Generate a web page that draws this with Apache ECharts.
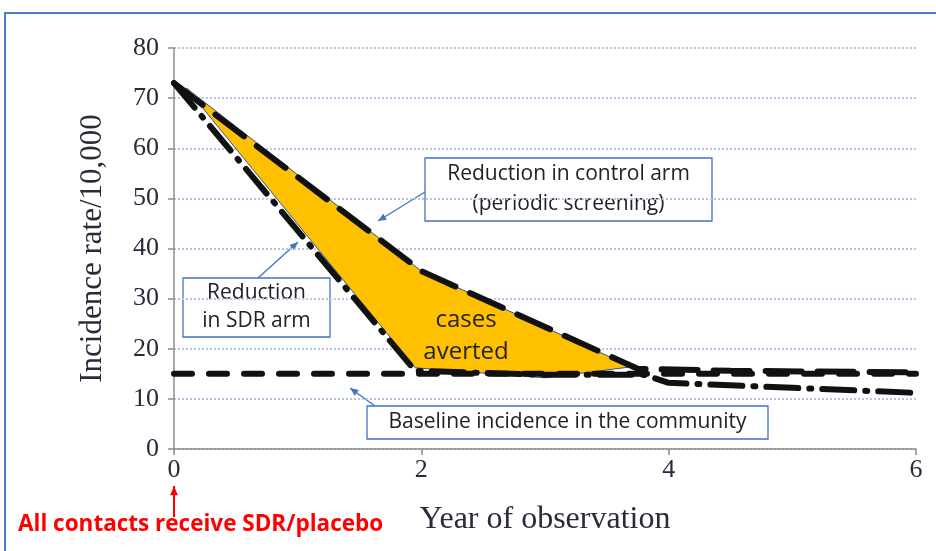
<!DOCTYPE html>
<html lang="en">
<head>
    <meta charset="UTF-8">
    <title>Incidence rate</title>
    <script src="https://cdn.jsdelivr.net/npm/echarts@6/dist/echarts.min.js"></script>
    <style>
        *{
            margin: 0;
            padding: 0;
        }
        .container{
            width: 936px;
            height: 551px;
        }
    </style>
</head>
<body>
<div class="container"></div>
<script>
    // values
    let xTicks = [0, 2, 4, 6];
    let baseline = [[0, 15], [6, 15]];
    let controlArm = [[0, 73], [2, 35.5], [3.75, 16], [4.5, 15.6], [6, 15.3]];
    let sdrArm = [[0, 73], [1.95, 15.6], [3, 14.8], [3.8, 14.8], [4, 13.2], [5, 12.2], [6, 11.2]];
    let avertedTop = [[0.1, 72], [2, 35.5], [3.7, 16.4]];
    let avertedBottom = [[0.1, 72], [1.95, 16.2], [3, 14.2], [3.7, 16.4]];

    let main = document.querySelectorAll(".container");
    let mycharts = echarts.init(main[0]);

    let serif = '"Liberation Serif", "DejaVu Serif", serif';
    let sans = '"Open Sans", "Noto Sans", sans-serif';
    let boxBlue = '#4472c4';
    let polygon = avertedTop.concat(avertedBottom.slice().reverse());

    function box(x, y, w, h, lines, size, lh) {
        return {
            type: 'group',
            children: [{
                type: 'rect',
                shape: {x: x, y: y, width: w, height: h},
                style: {fill: '#fff', stroke: boxBlue, lineWidth: 1.3}
            }, {
                type: 'text',
                x: x + w / 2,
                y: y + h / 2,
                style: {
                    text: lines.join('\n'),
                    font: size + 'px ' + sans,
                    fill: '#222',
                    align: 'center',
                    verticalAlign: 'middle',
                    lineHeight: lh
                }
            }]
        };
    }

    function arrow(x1, y1, x2, y2, color, width, head) {
        let a = Math.atan2(y2 - y1, x2 - x1);
        return {
            type: 'group',
            children: [{
                type: 'line',
                shape: {x1: x1, y1: y1, x2: x2, y2: y2},
                style: {stroke: color, lineWidth: width}
            }, {
                type: 'polygon',
                shape: {points: [
                    [x2, y2],
                    [x2 - head * Math.cos(a - 0.4), y2 - head * Math.sin(a - 0.4)],
                    [x2 - head * Math.cos(a + 0.4), y2 - head * Math.sin(a + 0.4)]
                ]},
                style: {fill: color}
            }]
        };
    }

    let Option = {
        backgroundColor: '#fff',
        animation: false,
        grid: {left: 174, top: 48, width: 742, height: 401},
        xAxis: {
            type: 'value',
            min: 0,
            max: 6,
            interval: 2,
            name: 'Year of observation',
            nameLocation: 'middle',
            nameGap: 55,
            nameTextStyle: {fontFamily: serif, fontSize: 32, color: '#2a2a3a'},
            axisLine: {lineStyle: {color: '#8c8c8c', width: 1.5}},
            axisTick: {show: true, length: 6, lineStyle: {color: '#8c8c8c', width: 1.5}},
            axisLabel: {fontFamily: serif, fontSize: 26, color: '#2a2a3a', margin: 8,
                formatter: v => xTicks.includes(v) ? String(v) : ''},
            splitLine: {show: false}
        },
        yAxis: {
            type: 'value',
            min: 0,
            max: 80,
            interval: 10,
            name: 'Incidence rate/10,000',
            nameLocation: 'middle',
            nameGap: 66,
            nameTextStyle: {fontFamily: serif, fontSize: 31, color: '#2a2a3a'},
            axisLine: {show: true, lineStyle: {color: '#8c8c8c', width: 1.5}},
            axisTick: {show: true, length: 6, lineStyle: {color: '#8c8c8c', width: 1.5}},
            axisLabel: {fontFamily: serif, fontSize: 26, color: '#2a2a3a', margin: 15},
            splitLine: {lineStyle: {color: '#b4c7e7', width: 2, type: [2, 2]}}
        },
        series: [{
            type: 'custom',
            data: polygon,
            z: 1,
            renderItem: function (params, api) {
                if (params.dataIndex !== 0) return;
                return {
                    type: 'polygon',
                    shape: {points: polygon.map(p => api.coord(p))},
                    style: {fill: '#ffc000', stroke: '#2f5597', lineWidth: 1}
                };
            }
        }, {
            type: 'line',
            data: baseline,
            symbol: 'none',
            z: 3,
            lineStyle: {color: '#111', width: 6, type: [18, 17], cap: 'round'}
        }, {
            type: 'line',
            data: controlArm,
            symbol: 'none',
            z: 3,
            lineStyle: {color: '#111', width: 6, type: [36, 16], cap: 'round'}
        }, {
            type: 'line',
            data: sdrArm,
            symbol: 'none',
            z: 3,
            lineStyle: {color: '#111', width: 6, type: [32, 11, 2, 11], cap: 'round'}
        }],
        graphic: [
            {
                type: 'rect',
                shape: {x: 5, y: 13, width: 1000, height: 600},
                style: {fill: 'none', stroke: '#4a7bd0', lineWidth: 2},
                z: 0
            },
            {
                type: 'text',
                x: 466,
                y: 336,
                style: {text: 'cases\naverted', font: '24px ' + sans, fill: '#222',
                    align: 'center', verticalAlign: 'middle', lineHeight: 32},
                z: 10
            },
            box(425, 158, 287, 63, ['Reduction in control arm', '(periodic screening)'], 21, 30),
            arrow(425, 192, 378, 221, boxBlue, 1.3, 9),
            box(183, 278, 147, 59, ['Reduction', 'in SDR arm'], 21, 28),
            arrow(258, 278, 298, 242, boxBlue, 1.3, 9),
            box(367, 406, 401, 33, ['Baseline incidence in the community'], 21, 28),
            arrow(375, 406, 350, 388, boxBlue, 1.3, 9),
            arrow(174, 517, 174, 486, '#ff0000', 2, 10),
            {
                type: 'text',
                x: 18,
                y: 525,
                style: {text: 'All contacts receive SDR/placebo', verticalAlign: 'middle',
                    font: 'bold 22.5px "Open Sans", sans-serif', fill: '#ff0000'}
            }
        ]
    };

    mycharts.setOption(Option);
</script>
</body>
</html>
